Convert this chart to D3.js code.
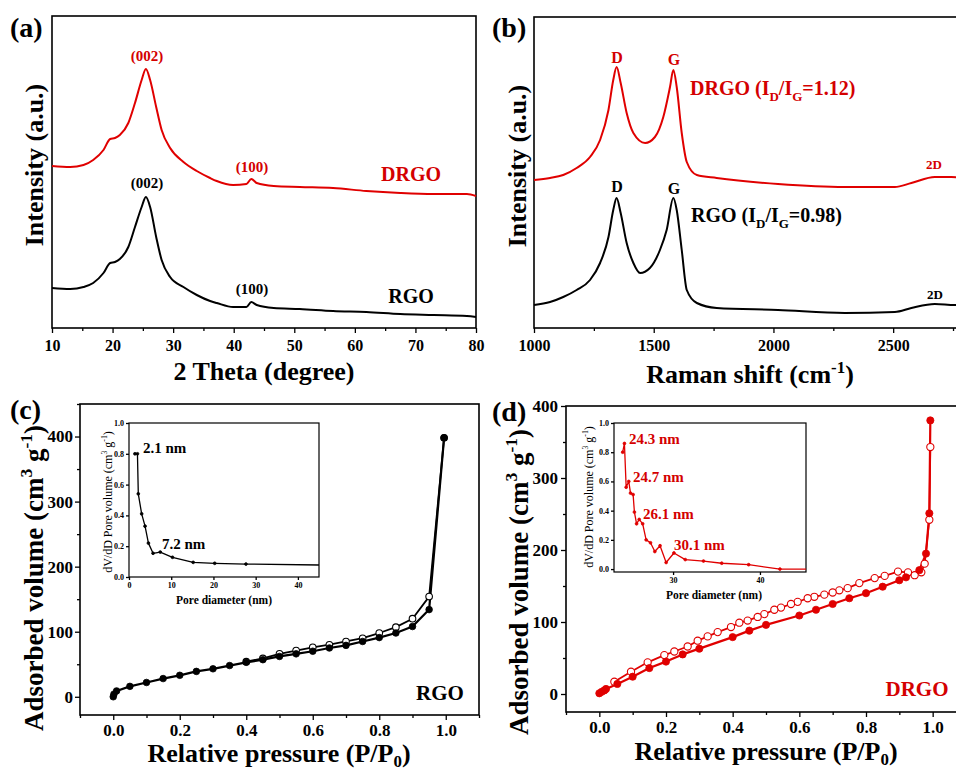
<html><head><meta charset="utf-8">
<style>
    body { margin: 0; background: #fff; }
    svg { display: block; font-family: "Liberation Serif", "Times New Roman", serif; font-weight: bold; }
    .axis path { display: none; }
    .axis line { stroke: #000; stroke-width: 1.3; }
</style>
</head>
<body>
<svg id="fig" width="956" height="771"></svg>
<script src="https://cdn.jsdelivr.net/npm/d3@7/dist/d3.min.js"></script>
<script>
// ---- (a) XRD ----
let theta = [10,13.0,15.2,16.8,18.5,19.6,20.4,21.2,22.6,23.7,24.8,25.5,26.2,27.2,28.1,29.5,31.7,33.9,36.1,37.2,39.9,42.1,42.9,43.8,46.6,50.9,56.4,61.9,67.5,73.0,78.5,80]
let xrdDRGO = [162,161,163,168,178,189,190,193,205,225,248,259,248,221,198,180,166,157,150,147,143,144,149,145,142,141,140,137,135,134,134,132]
let xrdRGO = [40,39,41,45,55,65,66,69,81,101,121,131,121,91,68,51,41,33,27,25,21,21,26,23,20,19,17,16,14,13,12,11]
let thetaTicks = [10,20,30,40,50,60,70,80]

// ---- (b) Raman ----
let shiftDRGO = [1000,1067,1122,1178,1234,1276,1311,1331,1345,1362,1387,1415,1464,1505,1540,1568,1582,1596,1617,1638,1680,1763,2019,2298,2507,2576,2674,2743,2800]
let ramanDRGO = [148,150,153,160,171,188,218,248,261,245,215,195,185,191,211,241,258,241,195,166,153,150,144,141,141,145,151,151,150]
let shiftRGO = [1000,1067,1122,1178,1234,1276,1311,1331,1345,1362,1387,1415,1443,1484,1526,1554,1582,1596,1617,1638,1680,1763,2019,2298,2507,2576,2674,2757,2800]
let ramanRGO = [23,26,31,38,48,65,91,118,130,115,85,65,55,60,78,98,130,118,78,38,25,20,18,15,16,20,24,23,23]
let shiftTicks = [1000,1500,2000,2500]

// ---- (c) RGO isotherm + pore size ----
let pRGOads = [0.0,0.002,0.01,0.05,0.1,0.15,0.2,0.25,0.3,0.35,0.4,0.45,0.5,0.55,0.6,0.65,0.7,0.75,0.8,0.85,0.9,0.95,0.995]
let vRGOads = [0,4,9,16,22,28,33,39,43,48,53,57,62,66,70,75,79,85,91,98,108,134,398]
let pRGOdes = [0.995,0.95,0.9,0.85,0.8,0.75,0.7,0.65,0.6,0.55,0.5,0.45,0.4]
let vRGOdes = [398,154,120,107,98,90,85,80,76,71,66,59,54]
let poreRGO = [1.4,2.0,2.2,3.0,3.8,4.6,5.7,7.4,10.3,15.2,20.3,27.7,45]
let dvRGO = [0.80,0.80,0.54,0.41,0.33,0.22,0.154,0.162,0.128,0.095,0.089,0.084,0.078]

// ---- (d) DRGO isotherm + pore size ----
let pDRGOads = [0,0.007,0.015,0.02,0.054,0.1,0.15,0.2,0.25,0.3,0.4,0.45,0.5,0.6,0.65,0.7,0.75,0.8,0.85,0.9,0.92,0.96,0.98,0.99,0.993]
let vDRGOads = [1,3,5,7,14,24,36,45,55,63,79,88,96,109,117,125,133,140,149,158,162,172,195,251,380]
let pDRGOdes = [0.993,0.99,0.976,0.966,0.946,0.926,0.896,0.856,0.826,0.78,0.745,0.72,0.70,0.675,0.645,0.625,0.595,0.575,0.545,0.525,0.495,0.475,0.445,0.42,0.395,0.355,0.325,0.295,0.265,0.225,0.195,0.145,0.095,0.045]
let vDRGOdes = [343,242,181,169,165,169,170,164,161,154,147,144,141,138,135,133,128,125,120,117,111,107,102,99,93,86,80,74,66,59,54,44,31,17]
let poreDRGO = [24.2,24.4,24.6,24.9,25.1,25.4,25.55,25.8,26.1,26.5,26.9,27.4,27.9,28.5,29.2,30.1,31.4,33.5,35.6,38.7,42.3,45.3]
let dvDRGO = [0.80,0.86,0.56,0.60,0.52,0.51,0.39,0.31,0.34,0.31,0.20,0.18,0.12,0.16,0.045,0.11,0.065,0.055,0.04,0.03,0.0,0.0]

let pTicks = [0,0.2,0.4,0.6,0.8,1.0]
let pMinor = [-0.1,0.1,0.3,0.5,0.7,0.9,1.1]
let volTicks = [0,100,200,300,400]
let volMinor = [50,150,250,350,450]
let dvTicks = [0,0.2,0.4,0.6,0.8,1.0]

const SERIF = '"Liberation Serif", "Times New Roman", serif'
const RED = '#e00000'
const RED_TEXT = '#d40000'
let svg = d3.select('#fig')

function drawAxis(g, orient, scale, pos, major, minor, size, pad, fmt, len) {
    let gen = orient === 'bottom' ? d3.axisBottom : d3.axisLeft
    let tr = orient === 'bottom' ? `translate(0,${pos})` : `translate(${pos},0)`
    let [lo, hi] = d3.extent(scale.domain())
    len = len || 5
    if (minor) {
        g.append('g').attr('class', 'axis').attr('transform', tr)
            .call(gen(scale).tickValues(minor.filter(v => v >= lo && v <= hi)).tickSize(len * 0.6).tickFormat(''))
    }
    g.append('g').attr('class', 'axis').attr('transform', tr)
        .call(gen(scale).tickValues(major).tickSize(len).tickPadding(pad).tickFormat(fmt || d3.format('d')))
        .attr('font-family', SERIF).attr('font-size', size).attr('font-weight', 'bold')
}

function frame(g, x0, y0, x1, y1, w) {
    g.append('rect').attr('x', x0).attr('y', y0).attr('width', x1 - x0).attr('height', y1 - y0)
        .attr('fill', 'none').attr('stroke', '#000').attr('stroke-width', w || 1.6)
}

// text made of pieces: [text, 'sub' | 'sup' | undefined]
function rich(g, x, y, parts, size, opts) {
    opts = opts || {}
    let t = g.append('text').attr('x', x).attr('y', y).attr('font-size', size)
        .attr('text-anchor', opts.anchor || 'start').attr('fill', opts.fill || '#000')
    if (opts.rotate) t.attr('transform', `rotate(-90,${x},${y})`)
    if (opts.weight) t.attr('font-weight', opts.weight)
    let sub = opts.sub || 0.3
    let shift = 0
    parts.forEach(([s, kind]) => {
        let target = kind === 'sub' ? size * sub : kind === 'sup' ? -size * 0.4 : 0
        t.append('tspan').attr('dy', target - shift)
            .attr('font-size', kind ? size * 0.65 : size).text(s)
        shift = target
    })
    return t
}

function label(g, x, y, s, size, fill, anchor) {
    g.append('text').attr('x', x).attr('y', y).attr('font-size', size)
        .attr('fill', fill || '#000').attr('text-anchor', anchor || 'middle').text(s)
}

function drawCurve(g, xs, ys, xScale, yScale, color, w, curve) {
    let line = d3.line().x(i => xScale(xs[i])).y(i => yScale(ys[i])).curve(curve || d3.curveLinear)
    g.append('path').attr('d', line(d3.range(xs.length)))
        .attr('fill', 'none').attr('stroke', color).attr('stroke-width', w || 1.8)
        .attr('stroke-linejoin', 'round')
}

function drawMarkers(g, xs, ys, xScale, yScale, color, r, open) {
    g.selectAll(null).data(d3.range(xs.length)).enter().append('circle')
        .attr('cx', i => xScale(xs[i])).attr('cy', i => yScale(ys[i])).attr('r', r)
        .attr('fill', open ? '#fff' : color).attr('stroke', color).attr('stroke-width', open ? 1.1 : 0.8)
}

// ---------- (a) ----------
function drawXRD() {
    let g = svg.append('g')
    let x = d3.scaleLinear().domain([10, 80]).range([52, 476])
    let y = d3.scaleLinear().domain([0, 312]).range([328, 16])
    drawAxis(g, 'bottom', x, 328, thetaTicks, [15,25,35,45,55,65,75], 16, 7)
    frame(g, 52, 16, 476, 328)
    drawCurve(g, theta, xrdDRGO, x, y, RED, 2, d3.curveMonotoneX)
    drawCurve(g, theta, xrdRGO, x, y, '#000', 2, d3.curveMonotoneX)
    label(g, 147, 61, '(002)', 15, RED_TEXT)
    label(g, 252, 172, '(100)', 15, RED_TEXT)
    label(g, 411, 181, 'DRGO', 20, RED_TEXT)
    label(g, 147, 188, '(002)', 15)
    label(g, 252, 294, '(100)', 15)
    label(g, 411, 303, 'RGO', 20)
    label(g, 264, 380, '2 Theta (degree)', 26)
    rich(g, 43, 165, [['Intensity (a.u.)']], 26, { anchor: 'middle', rotate: true })
    label(g, 10, 37, '(a)', 28, '#000', 'start')
}

// ---------- (b) ----------
function drawRaman() {
    let g = svg.append('g')
    let x = d3.scaleLinear().domain([1000, 2800]).range([534, 965])
    let y = d3.scaleLinear().domain([0, 311]).range([328, 17])
    drawAxis(g, 'bottom', x, 328, shiftTicks, [1250,1750,2250,2750], 16, 7)
    frame(g, 534, 17, 965, 328)
    drawCurve(g, shiftDRGO, ramanDRGO, x, y, RED, 2, d3.curveMonotoneX)
    drawCurve(g, shiftRGO, ramanRGO, x, y, '#000', 2, d3.curveMonotoneX)
    label(g, 617, 63, 'D', 16, RED_TEXT)
    label(g, 674, 65, 'G', 16, RED_TEXT)
    rich(g, 690, 95, [['DRGO (I'], ['D', 'sub'], ['/I'], ['G', 'sub'], ['=1.12)']], 20, { fill: RED_TEXT })
    label(g, 934, 169, '2D', 13, RED_TEXT)
    label(g, 617, 192, 'D', 16)
    label(g, 674, 194, 'G', 16)
    rich(g, 691, 222, [['RGO (I'], ['D', 'sub'], ['/I'], ['G', 'sub'], ['=0.98)']], 20)
    label(g, 935, 299, '2D', 13)
    rich(g, 750, 383, [['Raman shift (cm'], ['-1', 'sup'], [')']], 26, { anchor: 'middle' })
    rich(g, 526, 166, [['Intensity (a.u.)']], 26, { anchor: 'middle', rotate: true })
    label(g, 492, 37, '(b)', 28, '#000', 'start')
}

// ---------- isotherm panels ----------
function drawIsotherm(cfg) {
    let g = svg.append('g')
    let x = d3.scaleLinear().domain([-0.1, 1.1]).range([cfg.left, cfg.right])
    let y = d3.scaleLinear().domain(cfg.yDomain).range([cfg.bottom, cfg.top])
    drawAxis(g, 'bottom', x, cfg.bottom, pTicks, pMinor, 17, 4, d3.format('.1f'))
    drawAxis(g, 'left', y, cfg.left, volTicks, volMinor, 17, cfg.yPad, d3.format('d'))
    frame(g, cfg.left, cfg.top, cfg.right, cfg.bottom)

    drawCurve(g, cfg.pDes, cfg.vDes, x, y, cfg.color, 1.8)
    drawCurve(g, cfg.pAds, cfg.vAds, x, y, cfg.color, 2.2)
    drawMarkers(g, cfg.pDes, cfg.vDes, x, y, cfg.color, cfg.r, true)
    drawMarkers(g, cfg.pAds, cfg.vAds, x, y, cfg.color, cfg.r, false)

    label(g, cfg.nameX, cfg.nameY, cfg.name, 21, cfg.textColor)
    rich(g, cfg.xTitleX, cfg.xTitleY, [['Relative pressure (P/P'], ['0', 'sub'], [')']], 26, { anchor: 'middle', sub: 0.18 })
    rich(g, cfg.yTitleX, cfg.yTitleY, [['Adsorbed volume (cm'], ['3', 'sup'], [' g'], ['-1', 'sup'], [')']], 27, { anchor: 'middle', rotate: true })
    label(g, cfg.tagX, cfg.tagY, cfg.tag, 28, '#000', 'start')

    // inset
    let ins = cfg.inset
    let ix = d3.scaleLinear().domain(ins.xDomain).range([ins.left, ins.right])
    let iy = d3.scaleLinear().domain(ins.yDomain).range([ins.bottom, ins.top])
    g.append('rect').attr('x', ins.left).attr('y', ins.top).attr('width', ins.right - ins.left)
        .attr('height', ins.bottom - ins.top).attr('fill', '#fff')
    drawAxis(g, 'bottom', ix, ins.bottom, ins.xTicks, null, 8, 2, d3.format('d'), 3)
    drawAxis(g, 'left', iy, ins.left, dvTicks, null, 8, 2, d3.format('.1f'), 3)
    frame(g, ins.left, ins.top, ins.right, ins.bottom, 1.2)
    drawCurve(g, ins.xs, ins.ys, ix, iy, cfg.color, 1.3)
    drawMarkers(g, ins.xs.slice(0, -1), ins.ys.slice(0, -1), ix, iy, cfg.color, 1.4, false)
    ins.notes.forEach(n => label(g, n[0], n[1], n[2], 15, cfg.textColor, 'start'))
    label(g, ins.xTitleX, ins.xTitleY, 'Pore diameter (nm)', 11.5)
    rich(g, ins.yTitleX, ins.yTitleY, [['dV/dD Pore volume (cm'], ['3', 'sup'], [' g'], ['-1', 'sup'], [')']], 12,
        { anchor: 'middle', rotate: true, weight: 'normal' })
}

drawXRD()
drawRaman()

drawIsotherm({
    left: 80, right: 479, top: 404, bottom: 715, yDomain: [-28, 450], yPad: 2,
    color: '#000', textColor: '#000', r: 3.3,
    pAds: pRGOads, vAds: vRGOads, pDes: pRGOdes, vDes: vRGOdes,
    name: 'RGO', nameX: 440, nameY: 700,
    xTitleX: 279, xTitleY: 762, yTitleX: 43, yTitleY: 578,
    tag: '(c)', tagX: 10, tagY: 419,
    inset: {
        left: 129, right: 319, top: 423, bottom: 577, xDomain: [0, 45], yDomain: [0, 1],
        xTicks: [0, 10, 20, 30, 40], xs: poreRGO, ys: dvRGO,
        notes: [[143, 453, '2.1 nm'], [162, 549, '7.2 nm']],
        xTitleX: 224, xTitleY: 604, yTitleX: 112, yTitleY: 502
    }
})

drawIsotherm({
    left: 566, right: 966, top: 406, bottom: 712, yDomain: [-25, 400], yPad: 3,
    color: RED, textColor: RED_TEXT, r: 3.6,
    pAds: pDRGOads, vAds: vDRGOads, pDes: pDRGOdes, vDes: vDRGOdes,
    name: 'DRGO', nameX: 917, nameY: 696,
    xTitleX: 766, xTitleY: 760, yTitleX: 528, yTitleY: 582,
    tag: '(d)', tagX: 492, tagY: 421,
    inset: {
        left: 614, right: 806, top: 423, bottom: 572, xDomain: [23.2, 45.3], yDomain: [-0.02, 1],
        xTicks: [30, 40], xs: poreDRGO, ys: dvDRGO,
        notes: [[629, 444, '24.3 nm'], [633, 482, '24.7 nm'], [643, 519, '26.1 nm'], [674, 550, '30.1 nm']],
        xTitleX: 714, xTitleY: 599, yTitleX: 593, yTitleY: 497
    }
})
</script>
</body></html>
